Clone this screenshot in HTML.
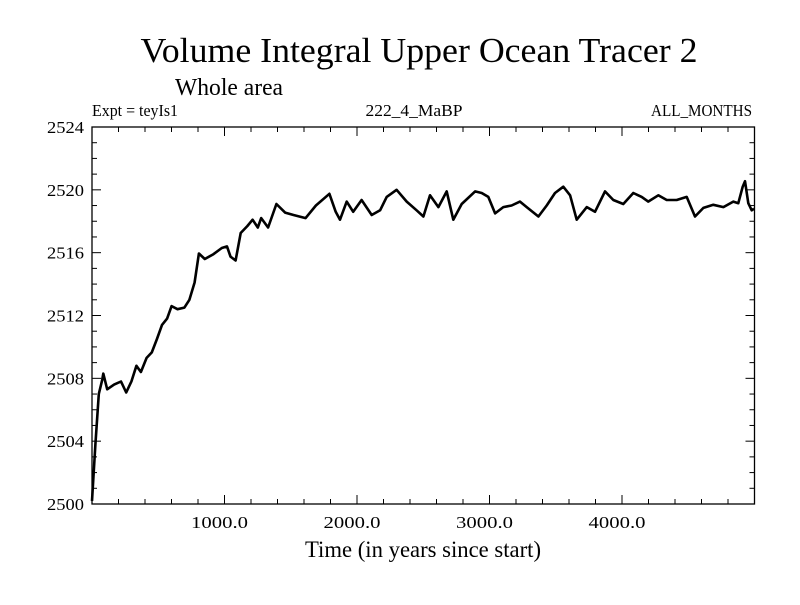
<!DOCTYPE html>
<html><head><meta charset="utf-8"><style>
html,body{margin:0;padding:0;background:#fff;}
svg text{font-family:"Liberation Serif",serif;fill:#000;}
</style></head><body>
<svg id="chart" width="800" height="600" viewBox="0 0 800 600" xmlns="http://www.w3.org/2000/svg">
<rect width="800" height="600" fill="#fff"/>
<text x="419" y="62" font-size="35" text-anchor="middle" textLength="557" lengthAdjust="spacingAndGlyphs">Volume Integral Upper Ocean Tracer 2</text>
<text x="175" y="95" font-size="24" textLength="108" lengthAdjust="spacingAndGlyphs">Whole area</text>
<text x="92" y="116" font-size="17" textLength="86" lengthAdjust="spacingAndGlyphs">Expt = teyIs1</text>
<text x="414" y="116" font-size="17" text-anchor="middle" textLength="97" lengthAdjust="spacingAndGlyphs">222_4_MaBP</text>
<text x="752" y="116" font-size="17" text-anchor="end" textLength="101" lengthAdjust="spacingAndGlyphs">ALL_MONTHS</text>
<text x="423" y="557" font-size="23" text-anchor="middle" textLength="236" lengthAdjust="spacingAndGlyphs">Time (in years since start)</text>
<g id="axes"></g>
<g id="series"></g>
</svg>
<script>
const times=[0,26,51,77,85,115,167,219,258,297,335,369,412,451,490,528,567,601,645,697,735,774,807,851,916,980,1019,1045,1084,1122,1173,1212,1251,1277,1329,1392,1457,1521,1612,1690,1792,1839,1872,1922,1971,2035,2111,2174,2224,2299,2375,2450,2501,2551,2614,2677,2727,2790,2891,2941,2991,3042,3104,3167,3230,3281,3369,3432,3494,3557,3608,3658,3734,3796,3872,3934,4010,4085,4149,4198,4274,4337,4413,4488,4551,4614,4689,4765,4840,4878,4911,4928,4953,4979,4996];
const values=[2500.2,2503.8,2507.0,2507.9,2508.3,2507.3,2507.6,2507.8,2507.1,2507.8,2508.8,2508.4,2509.3,2509.65,2510.5,2511.4,2511.8,2512.6,2512.4,2512.5,2513.0,2514.1,2515.95,2515.6,2515.9,2516.3,2516.4,2515.75,2515.5,2517.25,2517.7,2518.1,2517.6,2518.2,2517.6,2519.1,2518.55,2518.4,2518.2,2519.0,2519.75,2518.6,2518.1,2519.25,2518.6,2519.35,2518.4,2518.7,2519.55,2520.0,2519.25,2518.7,2518.3,2519.65,2518.9,2519.9,2518.1,2519.1,2519.9,2519.8,2519.55,2518.5,2518.9,2519.0,2519.25,2518.9,2518.3,2519.0,2519.8,2520.2,2519.65,2518.1,2518.9,2518.6,2519.9,2519.35,2519.1,2519.8,2519.55,2519.25,2519.65,2519.35,2519.35,2519.55,2518.3,2518.85,2519.05,2518.9,2519.25,2519.15,2520.2,2520.55,2519.15,2518.7,2518.8];
const yTickLabels=["2500","2504","2508","2512","2516","2520","2524"];
const xTickLabels=["1000.0","2000.0","3000.0","4000.0"];
const xMin=0,xMax=5000,yMin=2500,yMax=2524;
const L=92,R=754.5,T=127,B=504;
const NS="http://www.w3.org/2000/svg";
function sx(t){return L+(t-xMin)/(xMax-xMin)*(R-L);}
function sy(v){return B-(v-yMin)/(yMax-yMin)*(B-T);}
function mk(tag,attrs,parent){const e=document.createElementNS(NS,tag);for(const k in attrs)e.setAttribute(k,attrs[k]);parent.appendChild(e);return e;}
const axes=document.getElementById('axes');
const frame=mk('rect',{x:L,y:T,width:R-L,height:B-T,fill:'none',stroke:'#000','stroke-width':1.3},axes);


for(let v=yMin;v<=yMax;v+=1){
  const major=(v-yMin)%4===0;const len=major?9:5;const y=sy(v);
  const t1=mk('line',{x1:L,y1:y,x2:L+len,y2:y,stroke:'#000','stroke-width':1},axes);
  
  
  const t2=mk('line',{x1:R,y1:y,x2:R-len,y2:y,stroke:'#000','stroke-width':1},axes);
  
  
}
yTickLabels.forEach(s=>{
  const tx=mk('text',{x:L-8,y:sy(parseFloat(s))+6,'font-size':17,'text-anchor':'end',textLength:37,lengthAdjust:'spacingAndGlyphs'},axes);
  tx.textContent=s;
  
  
});
for(let t=xMin;t<=xMax;t+=200){
  const major=t%1000===0;const len=major?9:5;const x=sx(t);
  const t1=mk('line',{x1:x,y1:B,x2:x,y2:B-len,stroke:'#000','stroke-width':1},axes);
  
  
  const t2=mk('line',{x1:x,y1:T,x2:x,y2:T+len,stroke:'#000','stroke-width':1},axes);
  
  
}
xTickLabels.forEach(s=>{
  const tx=mk('text',{x:sx(parseFloat(s))-5,y:528,'font-size':17,'text-anchor':'middle',textLength:57,lengthAdjust:'spacingAndGlyphs'},axes);
  tx.textContent=s;
  
  
});
const series=document.getElementById('series');
const d=times.map((t,i)=>(i?'L':'M')+sx(t).toFixed(1)+','+sy(values[i]).toFixed(1)).join(' ');
const line=mk('path',{d:d,fill:'none',stroke:'#000','stroke-width':2.6,'stroke-linejoin':'round'},series);


</script>
</body></html>
